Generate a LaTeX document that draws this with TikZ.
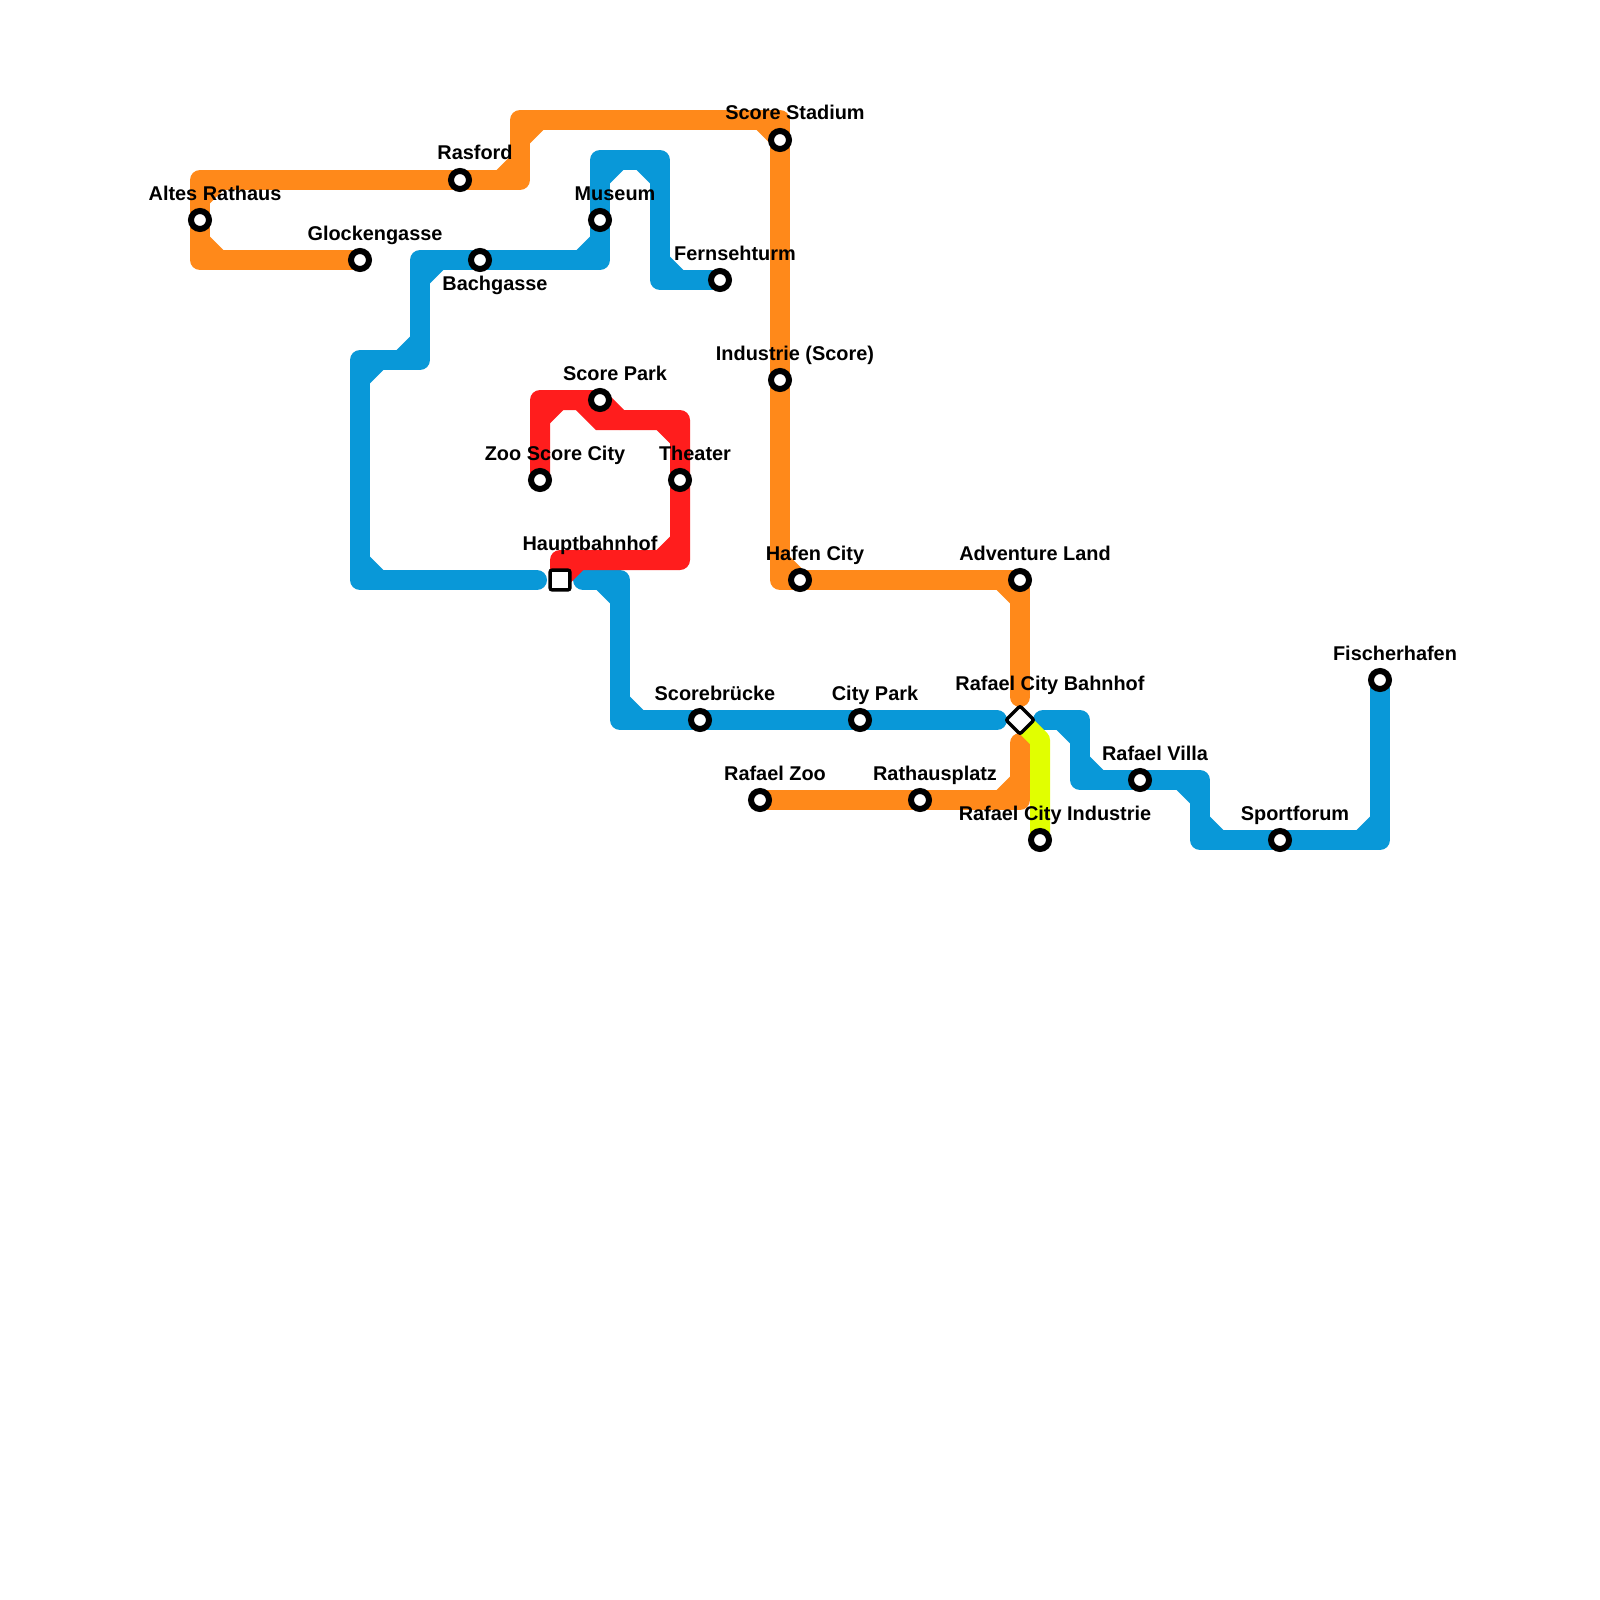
\documentclass[tikz,border=0pt]{standalone}
\usepackage{fontspec}
\setmainfont{Liberation Sans}
\usetikzlibrary{calc,backgrounds}
\definecolor{lineOrange}{RGB}{255,137,26}
\definecolor{lineBlue}{RGB}{9,152,216}
\definecolor{lineRed}{RGB}{255,29,29}
\definecolor{lineYellow}{RGB}{225,255,0}
\tikzset{
  metro/.style={line width=20pt,line cap=round,line join=round},
  gapboth/.style={shorten <=23pt,shorten >=23pt},
  gapstart/.style={shorten <=23pt},
  gapend/.style={shorten >=23pt},
  stn/.style={circle,draw=black,fill=white,line width=6pt,minimum size=18pt,inner sep=0pt,outer sep=0pt},
  hubsq/.style={rectangle,draw=black,fill=white,line width=3.4pt,rounded corners=2pt,minimum size=19.8pt,inner sep=0pt,outer sep=0pt},
  hubdia/.style={hubsq,rotate=45},
  lab/.style={anchor=base,inner sep=0pt,font=\fontsize{19.9}{22}\selectfont\bfseries,text=black}
}
\newcommand\mcorner[3]{%
  \draw[line width=20pt,line cap=butt] ($(#2)!19.2pt!(#1)$) -- ($(#2)!19.2pt!(#3)$);
}
\begin{document}
\begin{tikzpicture}[x=1pt,y=-1pt]
% stations
\node[stn] (altes) at (200,220) {};
\node[stn] (glock) at (360,260) {};
\node[stn] (ras) at (460,180) {};
\node[stn] (bach) at (480,260) {};
\node[stn] (mus) at (600,220) {};
\node[stn] (fern) at (720,280) {};
\node[stn] (stad) at (780,140) {};
\node[stn] (ind) at (780,380) {};
\node[stn] (park) at (600,400) {};
\node[stn] (zoo) at (540,480) {};
\node[stn] (thea) at (680,480) {};
\node[hubsq] (hbf) at (560,580) {};
\node[stn] (hafen) at (800,580) {};
\node[stn] (adv) at (1020,580) {};
\node[stn] (fisch) at (1380,680) {};
\node[stn] (scob) at (700,720) {};
\node[stn] (city) at (860,720) {};
\node[hubdia] (bhf) at (1020,720) {};
\node[stn] (villa) at (1140,780) {};
\node[stn] (rzoo) at (760,800) {};
\node[stn] (rath) at (920,800) {};
\node[stn] (rind) at (1040,840) {};
\node[stn] (sport) at (1280,840) {};
% bends
\coordinate (g1) at (200,260); \coordinate (g2) at (200,180);
\coordinate (r1) at (520,180); \coordinate (r2) at (520,120); \coordinate (r3) at (780,120);
\coordinate (h1) at (780,580); \coordinate (c1) at (1020,800);
\coordinate (b1) at (360,580); \coordinate (b2) at (360,360); \coordinate (b3) at (420,360);
\coordinate (b4) at (420,260); \coordinate (b5) at (600,260); \coordinate (b6) at (600,160);
\coordinate (b7) at (660,160); \coordinate (b8) at (660,280);
\coordinate (b9) at (620,580); \coordinate (b10) at (620,720);
\coordinate (b11) at (1080,720); \coordinate (b12) at (1080,780);
\coordinate (b13) at (1200,780); \coordinate (b14) at (1200,840); \coordinate (b15) at (1380,840);
\coordinate (d1) at (540,400); \coordinate (d2) at (620,420); \coordinate (d3) at (680,420);
\coordinate (d4) at (680,560); \coordinate (d5) at (560,560);
\coordinate (e1) at (580,400); \coordinate (e2) at (600,420);
\coordinate (y1) at (1040,740);
\begin{scope}[on background layer]
\fill[white] (0,0) rectangle (1600,1600);
\begin{scope}[color=lineBlue]
\draw[metro,gapstart] (hbf.center) -- (b1) -- (b2) -- (b3) -- (b4) -- (bach.center) -- (b5) -- (mus.center) -- (b6) -- (b7) -- (b8) -- (fern.center);
\mcorner{hbf.center}{b1}{b2}
\mcorner{b1}{b2}{b3}
\mcorner{b2}{b3}{b4}
\mcorner{b3}{b4}{bach.center}
\mcorner{bach.center}{b5}{mus.center}
\mcorner{mus.center}{b6}{b7}
\mcorner{b6}{b7}{b8}
\mcorner{b7}{b8}{fern.center}
\draw[metro,gapboth] (hbf.center) -- (b9) -- (b10) -- (scob.center) -- (city.center) -- (bhf.center);
\mcorner{hbf.center}{b9}{b10}
\mcorner{b9}{b10}{scob.center}
\draw[metro,gapstart] (bhf.center) -- (b11) -- (b12) -- (villa.center) -- (b13) -- (b14) -- (sport.center) -- (b15) -- (fisch.center);
\mcorner{bhf.center}{b11}{b12}
\mcorner{b11}{b12}{villa.center}
\mcorner{villa.center}{b13}{b14}
\mcorner{b13}{b14}{sport.center}
\mcorner{sport.center}{b15}{fisch.center}
\end{scope}
\begin{scope}[color=lineOrange]
\draw[metro,gapend] (glock.center) -- (g1) -- (altes.center) -- (g2) -- (ras.center) -- (r1) -- (r2) -- (r3) -- (stad.center) -- (ind.center) -- (h1) -- (hafen.center) -- (adv.center) -- (bhf.center);
\mcorner{glock.center}{g1}{altes.center}
\mcorner{altes.center}{g2}{ras.center}
\mcorner{ras.center}{r1}{r2}
\mcorner{r1}{r2}{r3}
\mcorner{r2}{r3}{stad.center}
\mcorner{ind.center}{h1}{hafen.center}
\mcorner{hafen.center}{adv.center}{bhf.center}
\draw[metro,gapstart] (bhf.center) -- (c1) -- (rath.center) -- (rzoo.center);
\mcorner{bhf.center}{c1}{rath.center}
\end{scope}
\begin{scope}[color=lineRed]
\draw[metro] (zoo.center) -- (d1) -- (park.center) -- (d2) -- (d3) -- (thea.center) -- (d4) -- (d5) -- (hbf.center);
\draw[line width=20pt,line cap=butt,line join=miter] (e1) -- (e2) -- (d2);
\mcorner{zoo.center}{d1}{park.center}
\mcorner{d2}{d3}{thea.center}
\mcorner{thea.center}{d4}{d5}
\mcorner{d4}{d5}{hbf.center}
\end{scope}
\begin{scope}[color=lineYellow]
\draw[metro] (bhf.center) -- (y1) -- (rind.center);
\end{scope}
\end{scope}
% labels
\node[lab] (laltes) at ([shift={(15,-20)}]altes.center) {Altes Rathaus};
\node[lab] (lglock) at ([shift={(15,-20)}]glock.center) {Glockengasse};
\node[lab] (lras) at ([shift={(15,-20)}]ras.center) {Rasford};
\node[lab] (lbach) at ([shift={(15,30)}]bach.center) {Bachgasse};
\node[lab] (lmus) at ([shift={(15,-20)}]mus.center) {Museum};
\node[lab] (lfern) at ([shift={(15,-20)}]fern.center) {Fernsehturm};
\node[lab] (lstad) at ([shift={(15,-20)}]stad.center) {Score Stadium};
\node[lab] (lind) at ([shift={(15,-20)}]ind.center) {Industrie (Score)};
\node[lab] (lpark) at ([shift={(15,-20)}]park.center) {Score Park};
\node[lab] (lzoo) at ([shift={(15,-20)}]zoo.center) {Zoo Score City};
\node[lab] (lthea) at ([shift={(15,-20)}]thea.center) {Theater};
\node[lab] (lhbf) at ([shift={(30,-30)}]hbf.center) {Hauptbahnhof};
\node[lab] (lhafen) at ([shift={(15,-20)}]hafen.center) {Hafen City};
\node[lab] (ladv) at ([shift={(15,-20)}]adv.center) {Adventure Land};
\node[lab] (lfisch) at ([shift={(15,-20)}]fisch.center) {Fischerhafen};
\node[lab] (lscob) at ([shift={(15,-20)}]scob.center) {Scorebrücke};
\node[lab] (lcity) at ([shift={(15,-20)}]city.center) {City Park};
\node[lab] (lbhf) at ([shift={(30,-30)}]bhf.center) {Rafael City Bahnhof};
\node[lab] (lvilla) at ([shift={(15,-20)}]villa.center) {Rafael Villa};
\node[lab] (lrzoo) at ([shift={(15,-20)}]rzoo.center) {Rafael Zoo};
\node[lab] (lrath) at ([shift={(15,-20)}]rath.center) {Rathausplatz};
\node[lab] (lrind) at ([shift={(15,-20)}]rind.center) {Rafael City Industrie};
\node[lab] (lsport) at ([shift={(15,-20)}]sport.center) {Sportforum};
\end{tikzpicture}
\end{document}
